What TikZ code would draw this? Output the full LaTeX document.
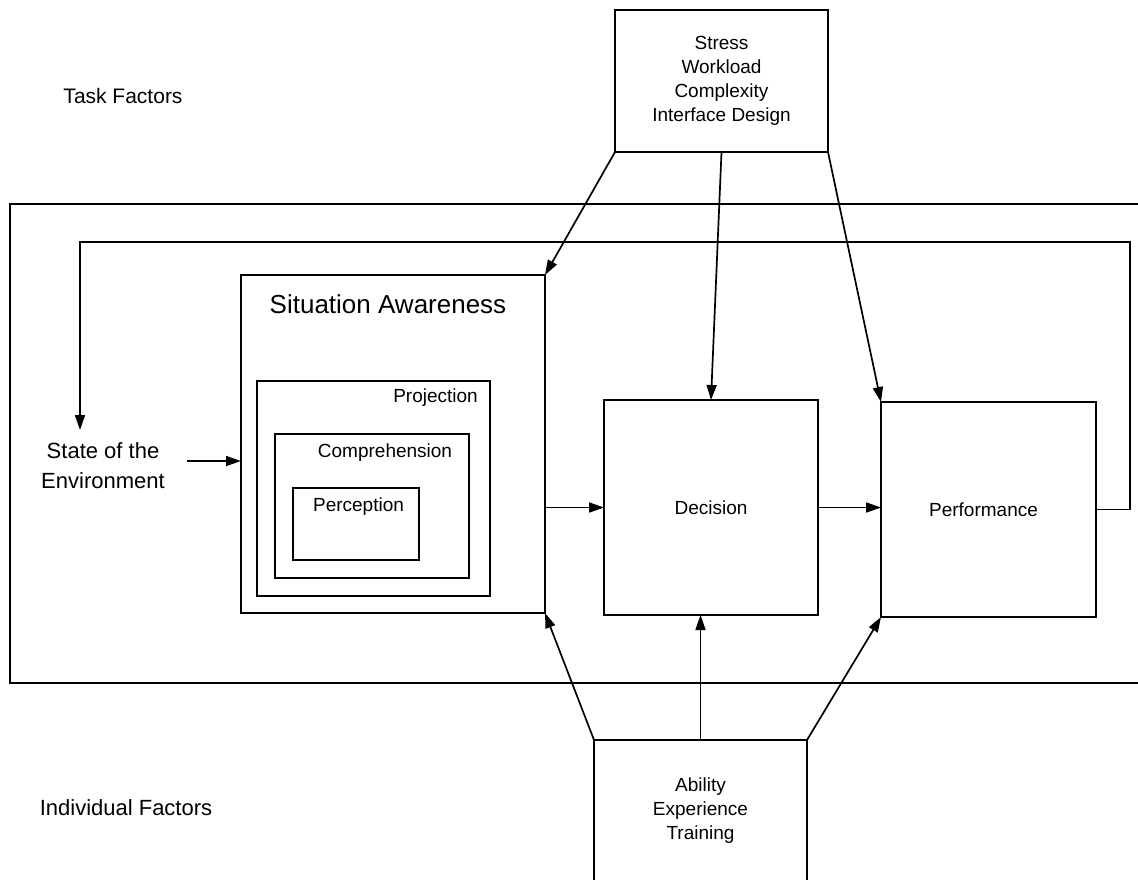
\documentclass[tikz,border=0pt]{standalone}
\usepackage{fontspec}
\setmainfont{Liberation Sans}
\usetikzlibrary{arrows.meta,calc}
\begin{document}
\begin{tikzpicture}[x=1pt,y=-1pt,
  box/.style={draw, line width=1.7pt, anchor=north west, inner sep=0pt, outer sep=0pt, align=center, font=\fontsize{19}{24}\selectfont},
  lbl/.style={inner sep=0pt, align=center, font=\fontsize{19}{24}\selectfont},
  biglbl/.style={inner sep=0pt, align=center, font=\fontsize{22}{30}\selectfont},
  arr/.style={line width=1.7pt, -{Triangle[length=15pt,width=10pt]}},
  frame/.style={line width=1.7pt}]
\useasboundingbox (0,0) rectangle (1138,879);
\clip (0,0) rectangle (1138,879);
\fill[white] (0,0) rectangle (1138,879);

% outer frame (environment)
\draw[frame] (1160,204) -- (10,204) -- (10,683) -- (1160,683);

% factor boxes
\node[box, minimum width=213pt, minimum height=142pt] (task) at (615,10) {Stress\\Workload\\Complexity\\Interface Design};
\node[box, minimum width=213pt, minimum height=142pt] (ind) at (594,740) {Ability\\Experience\\Training};

% situation awareness
\node[box, minimum width=304pt, minimum height=338pt] (sa) at (241,275) {};
\node[box, minimum width=233pt, minimum height=215pt] (proj) at (257,381) {};
\node[box, minimum width=194pt, minimum height=144pt] (comp) at (275,434) {};
\node[box, minimum width=126pt, minimum height=72pt] (perc) at (293,488) {};
\node[inner sep=0pt, font=\fontsize{26}{30}\selectfont] (satitle) at (388,304) {Situation Awareness};
\node[lbl] (projlbl) at (435.5,398) {Projection};
\node[lbl] (complbl) at (385,453) {Comprehension};
\node[lbl] (perclbl) at (358.5,507) {Perception};

% decision and performance
\node[box, minimum width=214pt, minimum height=215pt] (dec) at (604,400) {Decision};
\node[box, minimum width=215pt, minimum height=215pt] (perf) at (881,402) {\hspace*{-10pt}Performance};

% labels
\node[biglbl, font=\fontsize{21}{26}\selectfont] (taskf) at (123,96) {Task Factors};
\node[biglbl] (indf) at (126,808) {Individual Factors};
\node[biglbl] (env) at (103,466) {State of the\\Environment};

% coordinates for free ends
\coordinate (envout) at (187,461);
\coordinate (fbr) at (1130,242);
\coordinate (envin) at (80,430);

% connectors
\draw[arr] (envout) -- (envout -| sa.west);
\draw[arr] (dec.west -| sa.east) -- (dec.west);
\draw[arr] (dec.east) -- (dec.east -| perf.west);
\draw[arr] (perf.east) -| (fbr) -| (envin);

\draw[arr] (task.south west) -- (sa.north east);
\draw[arr] (task.south) -- (dec.north);
\draw[arr] (task.south east) -- (perf.north west);

\draw[arr] (ind.north west) -- (sa.south east);
\draw[arr] (ind.north) -- (ind.north |- dec.south);
\draw[arr] (ind.north east) -- (perf.south west);
\end{tikzpicture}
\end{document}
